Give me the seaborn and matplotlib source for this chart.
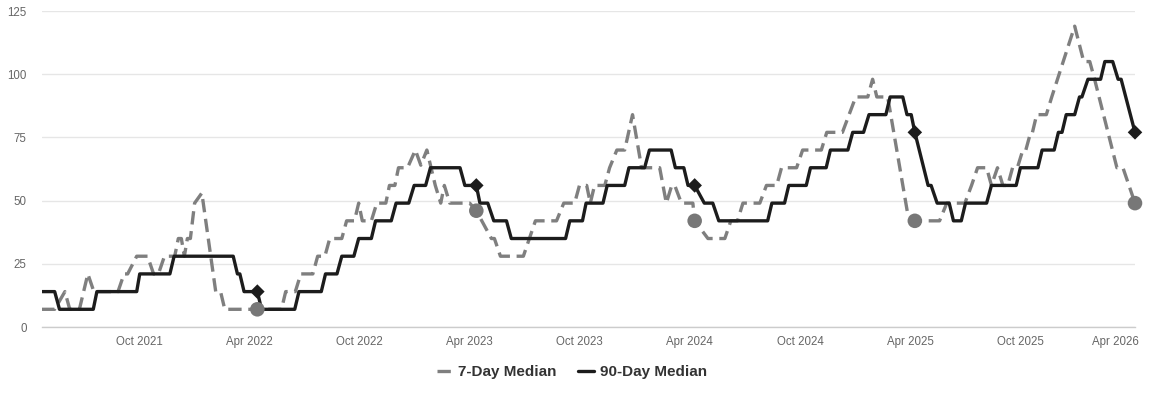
import matplotlib
matplotlib.use("Agg")
import matplotlib.pyplot as plt
import matplotlib.dates as mdates
import matplotlib.transforms as mtransforms
from matplotlib.lines import Line2D
import pandas as pd
import seaborn as sns

# 90-day median (vertices of the stepped line)
ninety_dates = [
    "2021-04-23", "2021-05-14", "2021-05-22", "2021-07-17", "2021-07-23", "2021-09-27",
    "2021-10-02", "2021-11-21", "2021-11-28", "2022-03-06", "2022-03-13", "2022-03-17",
    "2022-03-24", "2022-04-15", "2022-04-22", "2022-06-16", "2022-06-23", "2022-07-30",
    "2022-08-06", "2022-08-25", "2022-09-02", "2022-09-22", "2022-09-30", "2022-10-21",
    "2022-10-28", "2022-11-23", "2022-12-01", "2022-12-22", "2022-12-31", "2023-01-19",
    "2023-01-27", "2023-03-17", "2023-03-25", "2023-04-13", "2023-04-19", "2023-05-02",
    "2023-05-12", "2023-06-02", "2023-06-10", "2023-09-08", "2023-09-15", "2023-10-06",
    "2023-10-12", "2023-11-09", "2023-11-16", "2023-12-15", "2023-12-22", "2024-01-17",
    "2024-01-25", "2024-03-01", "2024-03-08", "2024-03-22", "2024-03-29", "2024-04-09",
    "2024-04-25", "2024-05-09", "2024-05-19", "2024-08-08", "2024-08-15", "2024-09-05",
    "2024-09-12", "2024-10-11", "2024-10-18", "2024-11-13", "2024-11-20", "2024-12-19",
    "2024-12-27", "2025-01-14", "2025-01-23", "2025-02-20", "2025-02-27", "2025-03-20",
    "2025-03-27", "2025-04-03", "2025-04-09", "2025-05-01", "2025-05-06", "2025-05-16",
    "2025-06-05", "2025-06-12", "2025-06-25", "2025-07-02", "2025-08-06", "2025-08-14",
    "2025-09-24", "2025-10-01", "2025-10-30", "2025-11-06", "2025-11-26", "2025-12-03",
    "2025-12-09", "2025-12-16", "2025-12-30", "2026-01-07", "2026-01-11", "2026-01-21",
    "2026-02-11", "2026-02-18", "2026-03-03", "2026-03-12", "2026-03-17", "2026-04-09",
]
ninety_vals = [
    14, 14, 7, 7, 14, 14,
    21, 21, 28, 28, 21, 21,
    14, 14, 7, 7, 14, 14,
    21, 21, 28, 28, 35, 35,
    42, 42, 49, 49, 56, 56,
    63, 63, 56, 56, 49, 49,
    42, 42, 35, 35, 42, 42,
    49, 49, 56, 56, 63, 63,
    70, 70, 63, 63, 56, 56,
    49, 49, 42, 42, 49, 49,
    56, 56, 63, 63, 70, 70,
    77, 77, 84, 84, 91, 91,
    84, 84, 77, 56, 56, 49,
    49, 42, 42, 49, 49, 56,
    56, 63, 63, 70, 70, 77,
    77, 84, 84, 91, 91, 98,
    98, 105, 105, 98, 98, 77,
]

# 7-day median
seven_dates = [
    "2021-04-23", "2021-05-14", "2021-05-31", "2021-06-08", "2021-06-24", "2021-07-08",
    "2021-07-18", "2021-08-27", "2021-09-06", "2021-09-12", "2021-09-27", "2021-10-15",
    "2021-10-25", "2021-11-02", "2021-11-12", "2021-11-29", "2021-12-05", "2021-12-10",
    "2021-12-15", "2021-12-20", "2021-12-25", "2022-01-01", "2022-01-13", "2022-02-05",
    "2022-02-13", "2022-02-20", "2022-05-25", "2022-06-01", "2022-06-17", "2022-06-26",
    "2022-07-16", "2022-07-24", "2022-08-05", "2022-08-13", "2022-09-02", "2022-09-10",
    "2022-09-23", "2022-09-30", "2022-10-06", "2022-10-21", "2022-10-30", "2022-11-14",
    "2022-11-20", "2022-11-29", "2022-12-05", "2022-12-20", "2023-01-02", "2023-01-11",
    "2023-01-21", "2023-02-04", "2023-02-13", "2023-02-19", "2023-02-28", "2023-04-02",
    "2023-04-13", "2023-05-08", "2023-05-13", "2023-05-23", "2023-06-30", "2023-07-20",
    "2023-08-24", "2023-09-05", "2023-09-23", "2023-10-01", "2023-10-13", "2023-10-19",
    "2023-10-26", "2023-11-12", "2023-11-20", "2023-12-02", "2023-12-15", "2023-12-28",
    "2024-01-12", "2024-02-11", "2024-02-22", "2024-03-02", "2024-03-07", "2024-03-18",
    "2024-04-06", "2024-04-09", "2024-05-01", "2024-05-29", "2024-06-08", "2024-06-19",
    "2024-06-28", "2024-07-26", "2024-08-06", "2024-08-23", "2024-08-31", "2024-09-25",
    "2024-10-05", "2024-11-05", "2024-11-14", "2024-12-10", "2025-01-01", "2025-01-21",
    "2025-01-29", "2025-02-05", "2025-02-23", "2025-03-28", "2025-04-09", "2025-05-20",
    "2025-06-01", "2025-07-01", "2025-07-12", "2025-07-22", "2025-08-06", "2025-08-14",
    "2025-08-24", "2025-09-02", "2025-09-10", "2025-09-18", "2025-09-26", "2025-10-05",
    "2025-10-10", "2025-10-18", "2025-10-21", "2025-10-28", "2025-11-13", "2025-11-22",
    "2025-12-30", "2026-01-14", "2026-01-24", "2026-02-01", "2026-03-10", "2026-03-20",
    "2026-04-09",
]
seven_vals = [
    7, 7, 14, 7, 7, 21,
    14, 14, 21, 21, 28, 28,
    21, 21, 28, 28, 35, 35,
    28, 35, 35, 49, 53, 14,
    14, 7, 7, 14, 14, 21,
    21, 28, 28, 35, 35, 42,
    42, 49, 42, 42, 49, 49,
    56, 56, 63, 63, 70, 64,
    70, 56, 49, 56, 49, 49,
    46, 35, 35, 28, 28, 42,
    42, 49, 49, 56, 56, 49,
    56, 56, 63, 70, 70, 84,
    63, 63, 49, 56, 56, 49,
    49, 42, 35, 35, 42, 42,
    49, 49, 56, 56, 63, 63,
    70, 70, 77, 77, 91, 91,
    98, 91, 91, 45, 42, 42,
    49, 49, 56, 63, 63, 56,
    63, 56, 56, 63, 63, 70,
    70, 77, 77, 84, 84, 91,
    119, 105, 105, 98, 63, 63,
    49,
]

# highlighted points (same date each year)
marker_dates = ["2022-04-15", "2023-04-13", "2024-04-09", "2025-04-09", "2026-04-09"]
marker_ninety = [14, 56, 56, 77, 77]
marker_seven = [7, 46, 42, 42, 49]

ninety = pd.DataFrame({"date": pd.to_datetime(ninety_dates), "value": ninety_vals})
seven = pd.DataFrame({"date": pd.to_datetime(seven_dates), "value": seven_vals})
marks = pd.DataFrame({"date": pd.to_datetime(marker_dates),
                      "ninety": marker_ninety, "seven": marker_seven})

sns.set_style("white")
plt.rcParams["font.family"] = ["Liberation Sans", "DejaVu Sans"]

fig = plt.figure(figsize=(11.5, 4.01), dpi=100)
ax = fig.add_axes([42 / 1150, 1 - 327 / 401, (1135 - 42) / 1150, (327 - 11) / 401])

gray = "#7f7f7f"
black = "#1c1c1c"

sns.lineplot(data=seven, x="date", y="value", ax=ax, color=gray, linewidth=2.4,
             linestyle=(0, (4, 2)), zorder=3)
sns.lineplot(data=ninety, x="date", y="value", ax=ax, color=black, linewidth=2.4,
             zorder=4)
sns.scatterplot(data=marks, x="date", y="seven", ax=ax, color="#777777", s=110,
                marker="o", edgecolor="none", zorder=5, clip_on=False)
sns.scatterplot(data=marks, x="date", y="ninety", ax=ax, color=black, s=55,
                marker="D", edgecolor="none", zorder=6, clip_on=False)

ax.set_xlim(pd.Timestamp("2021-04-23"), pd.Timestamp("2026-04-09"))
ax.set_ylim(0, 125)
ax.set_yticks([0, 25, 50, 75, 100, 125])
ax.yaxis.grid(True, color="#e6e6e6", linewidth=1)
ax.xaxis.grid(False)
ax.set_xlabel("")
ax.set_ylabel("")

ax.xaxis.set_major_locator(mdates.MonthLocator(bymonth=[4, 10]))
ax.xaxis.set_major_formatter(mdates.DateFormatter("%b %Y"))

for side in ["top", "right", "left"]:
    ax.spines[side].set_visible(False)
ax.spines["bottom"].set_color("#cccccc")
ax.spines["bottom"].set_linewidth(1)

ax.tick_params(axis="y", length=0, pad=11, labelsize=8.3, labelcolor="#666666")
ax.tick_params(axis="x", length=6, width=1, color="#cccccc", pad=0.5,
               labelsize=8.3, labelcolor="#666666")

# keep the last date label inside the figure, like the original
fig.canvas.draw()
last = ax.get_xticklabels()[-1]
last.set_horizontalalignment("right")
last.set_transform(last.get_transform() +
                   mtransforms.ScaledTranslation(9 / 100, 0, fig.dpi_scale_trans))

handles = [
    Line2D([0], [0], color=gray, linewidth=2.4, linestyle=(0, (4, 2))),
    Line2D([0], [0], color=black, linewidth=2.4),
]
leg = fig.legend(handles, ["7-Day Median", "90-Day Median"], loc="center",
                 bbox_to_anchor=(572 / 1150, 1 - 372 / 401), ncol=2, frameon=False,
                 prop={"weight": "bold", "size": 11}, handlelength=1.05,
                 handletextpad=0.35, columnspacing=1.4)
for t in leg.get_texts():
    t.set_color("#333333")

fig.savefig("out.png", dpi=100)
